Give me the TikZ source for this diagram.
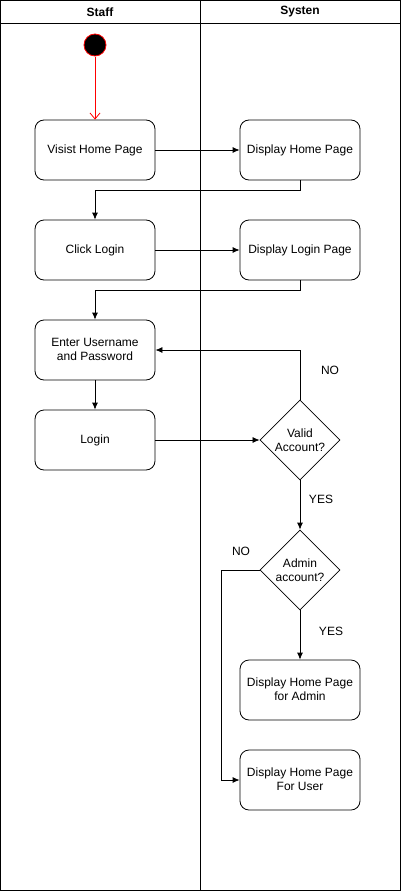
\documentclass[tikz,border=0pt]{standalone}
\usepackage{fontspec}
\setmainfont{Liberation Sans}
\usetikzlibrary{shapes.geometric, arrows.meta}

\tikzset{
	action/.style={draw, rounded corners=9pt, minimum width=120pt, minimum height=60pt, align=center, inner sep=2pt, text depth=1pt},
	decision/.style={draw, diamond, minimum size=80pt, inner sep=0pt, align=center},
	flow/.style={-{Latex[length=7pt,width=6pt]}},
}

\begin{document}
\begin{tikzpicture}[x=1pt,y=-1pt,font=\fontsize{12}{14}\selectfont,line width=0.8pt]
	\useasboundingbox (0,0) rectangle (401,891);
	
	%lanes
	\draw (0.5,0.5) rectangle (400.5,890.5);
	\draw (0.5,23) -- (400.5,23);
	\draw (200.5,0.5) -- (200.5,890.5);
	\node[font=\fontsize{12}{14}\selectfont\bfseries] (staff) at (100,12) {Staff};
	\node[font=\fontsize{12}{14}\selectfont\bfseries] (systen) at (300,12) {Systen};
	
	%nodes
	\filldraw[draw=red, fill=black] (95,45) circle (11pt);
	\coordinate (start) at (95,57);
	\node[action] (visit) at (95,150) {Visist Home Page};
	\node[action] (dhome) at (300,150) {Display Home Page};
	\node[action] (click) at (95,250) {Click Login};
	\node[action] (dlogin) at (300,250) {Display Login Page};
	\node[action] (enter) at (95,350) {Enter Username\\and Password};
	\node[action] (login) at (95,440) {Login};
	\node[decision] (valid) at (300,440) {Valid\\Account?};
	\node[decision] (admin) at (300,570) {Admin\\account?};
	\node[action] (hadmin) at (300,690) {Display Home Page\\for Admin};
	\node[action] (huser) at (300,780) {Display Home Page\\For User};
	
	%connectors
	\draw[red, -{Straight Barb[length=6pt,width=10pt]}] (start) -- (visit);
	\draw[flow] (visit) -- (dhome);
	\draw[flow] (dhome.south) |- (95,190) -- (click.north);
	\draw[flow] (click) -- (dlogin);
	\draw[flow] (dlogin.south) |- (95,290) -- (enter.north);
	\draw[flow] (enter) -- (login);
	\draw[flow] (login) -- (valid);
	\draw[flow] (valid.north) |- (enter.east);
	\draw[flow] (valid) -- (admin);
	\draw[flow] (admin) -- (hadmin);
	\draw[flow] (admin.west) -- (221,570) |- (huser.west);
	
	%labels
	\node (no1) at (330,370) {NO};
	\node (yes1) at (321,499) {YES};
	\node (no2) at (241,551) {NO};
	\node (yes2) at (331,631) {YES};
\end{tikzpicture}
\end{document}
